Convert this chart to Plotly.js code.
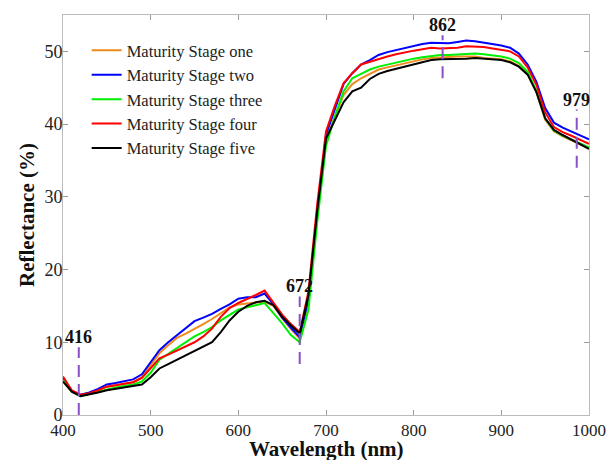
<!DOCTYPE html>
<html>
<head>
<meta charset="utf-8">
<script src="https://cdn.plot.ly/plotly-3.0.1.min.js"></script>
<style>html,body{margin:0;padding:0;background:#fff;}#chart{width:608px;height:460px;}</style>
</head>
<body>
<div id="chart"></div>
<script>
const wavelength = [400,410,420,430,440,450,460,470,480,490,500,510,520,530,540,550,560,570,580,590,600,610,620,630,640,650,660,670,680,690,700,710,720,730,740,750,760,770,780,790,800,810,820,830,840,850,860,870,880,890,900,910,920,930,940,950,960,970,980,990,1000];

const stageOne = [4.7,3.2,2.7,3.0,3.4,3.9,4.1,4.3,4.5,5.2,6.8,8.5,9.6,10.6,11.2,11.8,12.5,13.2,14.0,14.8,15.2,15.3,15.4,15.6,15.0,13.3,11.8,10.5,15.5,27.5,37.5,41.0,44.0,45.5,46.3,46.9,47.5,47.8,48.1,48.4,48.7,48.9,49.1,49.2,49.2,49.3,49.3,49.3,49.1,49.0,48.9,48.6,48.0,46.9,44.4,40.6,39.0,38.3,37.8,37.2,36.6];
const stageTwo = [5.0,3.3,2.8,3.1,3.6,4.2,4.4,4.6,4.9,5.6,7.3,8.9,10.0,11.0,12.0,12.9,13.4,13.9,14.6,15.2,16.0,16.2,16.2,16.7,15.2,13.4,12.0,10.7,16.0,28.0,38.5,42.0,45.5,47.0,48.2,48.8,49.5,49.9,50.2,50.5,50.8,51.0,51.2,51.1,51.1,51.3,51.5,51.4,51.2,51.1,50.8,50.5,49.7,48.2,45.8,42.2,40.2,39.5,39.0,38.5,37.9];
const stageThree = [4.8,3.2,2.6,2.9,3.2,3.6,3.8,4.0,4.2,4.6,5.8,7.6,8.4,9.2,10.0,10.8,11.4,12.1,13.0,13.8,14.5,14.8,15.1,15.4,14.0,12.6,11.0,10.0,14.5,26.5,37.0,41.0,44.5,46.3,46.9,47.5,47.9,48.2,48.5,48.8,49.0,49.2,49.4,49.5,49.5,49.6,49.7,49.7,49.6,49.5,49.3,49.0,48.4,47.2,44.6,40.8,39.1,38.4,37.9,37.3,36.8];
const stageFour = [5.3,3.4,2.8,3.0,3.4,3.9,4.1,4.3,4.5,5.1,6.4,7.8,8.3,8.9,9.4,10.0,10.8,11.9,13.5,14.7,15.4,15.9,16.5,17.1,15.4,13.8,12.5,11.4,17.0,29.0,39.0,42.5,45.6,47.0,48.2,48.6,49.0,49.3,49.6,49.9,50.1,50.3,50.5,50.4,50.4,50.5,50.7,50.7,50.6,50.4,50.2,50.0,49.3,47.8,45.4,41.6,39.6,38.9,38.4,37.9,37.3];
const stageFive = [4.6,3.2,2.6,2.8,3.1,3.4,3.6,3.8,3.9,4.2,5.2,6.4,7.0,7.6,8.2,8.7,9.3,10.0,11.4,13.0,14.2,15.0,15.5,15.7,15.1,13.5,12.3,11.2,16.5,28.0,38.0,40.5,43.0,44.5,45.0,46.2,46.9,47.3,47.6,48.0,48.3,48.5,48.8,48.9,48.9,49.0,49.0,49.1,49.0,48.9,48.8,48.5,47.9,46.8,44.4,40.8,39.2,38.5,37.9,37.2,36.6];

const seriesNames = ['Maturity Stage one','Maturity Stage two','Maturity Stage three','Maturity Stage four','Maturity Stage five'];
const seriesColors = ['#EE8A1E','#0000FF','#00EE00','#FF0000','#000000'];
const seriesValues = [stageOne, stageTwo, stageThree, stageFour, stageFive];

const markLabels = ['416','672','862','979'];
const markWl = [418, 670, 833, 986];
const markLow = [0, 7.0, 46.3, 34.0];
const markHigh = [9.3, 16.3, 52.2, 42.0];

const serif = 'Liberation Serif, Times New Roman, serif';

const traces = seriesNames.map((n,i)=>({
  x: wavelength, y: seriesValues[i], type:'scatter', mode:'lines', name:n,
  line:{color:seriesColors[i], width:2}
}));

const shapes = markWl.map((w,i)=>({
  type:'line', xref:'x', yref:'y', x0:w, x1:w, y0:markLow[i], y1:markHigh[i],
  line:{color:'#8B4FC7', width:2, dash:'12px,7px'}
}));

const annotations = markWl.map((w,i)=>({
  x:w, y:markHigh[i], xref:'x', yref:'y', text:'<b>'+markLabels[i]+'</b>',
  showarrow:false, yanchor:'bottom', xanchor:'center', yshift:-2,
  font:{family:serif, size:18, color:'#111'}
}));
annotations.push({
  x:0.5, y:0, xref:'paper', yref:'paper', yanchor:'top', xanchor:'center', yshift:-20,
  text:'<b>Wavelength (nm)</b>', showarrow:false,
  font:{family:serif, size:21, color:'#111'}
});

const layout = {
  width:608, height:460,
  margin:{l:63, r:19, t:15, b:45},
  paper_bgcolor:'#fff', plot_bgcolor:'#fff',
  showlegend:true,
  legend:{x:0.045, y:0.955, xanchor:'left', yanchor:'top', bgcolor:'rgba(255,255,255,0)',
    font:{family:serif, size:16.5, color:'#222'}, tracegroupgap:0},
  xaxis:{range:[400,1000], dtick:100, tick0:400, showgrid:false, zeroline:false,
    showline:true, linecolor:'#bbb', linewidth:1, mirror:'ticks', ticks:'inside', ticklen:5, tickcolor:'#999',
    tickfont:{family:serif, size:17, color:'#222'}},
  yaxis:{range:[0,55], dtick:10, tick0:0, showgrid:false, zeroline:false,
    showline:true, linecolor:'#bbb', linewidth:1, mirror:'ticks', ticks:'inside', ticklen:5, tickcolor:'#999',
    tickfont:{family:serif, size:18, color:'#222'}, ticklabelstandoff:-4,
    title:{text:'<b>Reflectance (%)</b>', font:{family:serif, size:21, color:'#111'}, standoff:4}},
  shapes:shapes, annotations:annotations
};

Plotly.newPlot('chart', traces, layout, {displayModeBar:false, staticPlot:true});
</script>
</body>
</html>
